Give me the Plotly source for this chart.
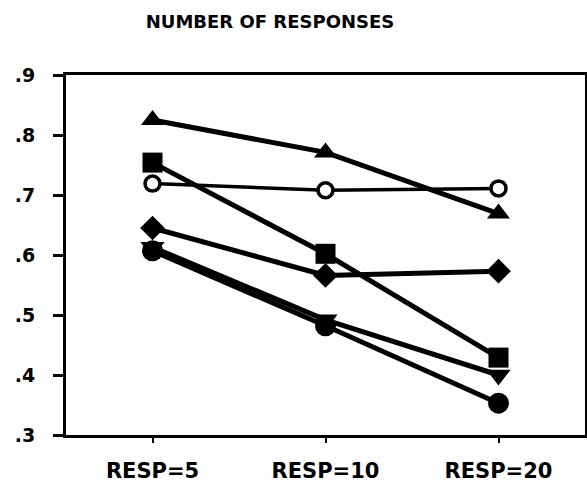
import plotly.graph_objects as go

categories = ["RESP=5", "RESP=10", "RESP=20"]
triangle_up = [0.825, 0.771, 0.669]
square = [0.754, 0.602, 0.429]
open_circle = [0.719, 0.708, 0.711]
diamond = [0.645, 0.566, 0.573]
triangle_down = [0.613, 0.492, 0.400]
filled_circle = [0.607, 0.482, 0.353]

y_ticks = [0.3, 0.4, 0.5, 0.6, 0.7, 0.8, 0.9]
y_tick_labels = [".3", ".4", ".5", ".6", ".7", ".8", ".9"]

xs = list(range(len(categories)))

series = [
    (triangle_up, "triangle-up", "black", 5, 20),
    (square, "square", "black", 5, 20),
    (diamond, "diamond", "black", 5, 19),
    (triangle_down, "triangle-down", "black", 5, 21),
    (filled_circle, "circle", "black", 5, 21),
    (open_circle, "circle", "white", 3.5, 15),
]

fig = go.Figure()
for vals, sym, fill, lw, ms in series:
    fig.add_trace(go.Scatter(
        x=xs, y=vals, mode="lines+markers",
        line=dict(color="black", width=lw),
        marker=dict(symbol=sym, size=ms, color=fill,
                    line=dict(color="black", width=3.5 if fill == "white" else 0)),
        showlegend=False, hoverinfo="skip",
    ))

fam = "DejaVu Sans, Liberation Sans, Arial, sans-serif"
yfont = dict(family=fam, size=19, color="black", weight="bold")
xfont = dict(family=fam, size=21, color="black", weight="bold")

W, H = 587, 482

fig.update_layout(
    width=W, height=H,
    margin=dict(l=66, r=2, t=75, b=47, autoexpand=False),
    paper_bgcolor="white", plot_bgcolor="white",
    title=dict(text="NUMBER OF RESPONSES", x=270 / W, xanchor="center", xref="container",
               y=1 - 22 / H, yanchor="middle", yref="container", automargin=False,
               font=dict(family=fam, size=18, color="black", weight="bold")),
    xaxis=dict(range=[-0.5, 2.5], tickvals=xs, ticktext=categories, automargin=False,
               showgrid=False, zeroline=False, showline=True, linecolor="black",
               linewidth=3, mirror=True, ticks="outside", ticklen=5, tickwidth=2,
               tickcolor="black", tickfont=xfont, ticklabelstandoff=10),
    yaxis=dict(range=[0.3, 0.9], tickvals=y_ticks, ticktext=y_tick_labels, automargin=False,
               showgrid=False, zeroline=False, showline=True, linecolor="black",
               linewidth=3, mirror=True, ticks="outside", ticklen=10, tickwidth=3,
               tickcolor="black", tickfont=yfont, ticklabelstandoff=14),
)

fig.write_html(
    "out.html",
    config={"displayModeBar": False, "staticPlot": True},
    post_script="document.body.style.margin='0';document.body.style.overflow='hidden';"
                "document.documentElement.style.overflow='hidden';",
)
